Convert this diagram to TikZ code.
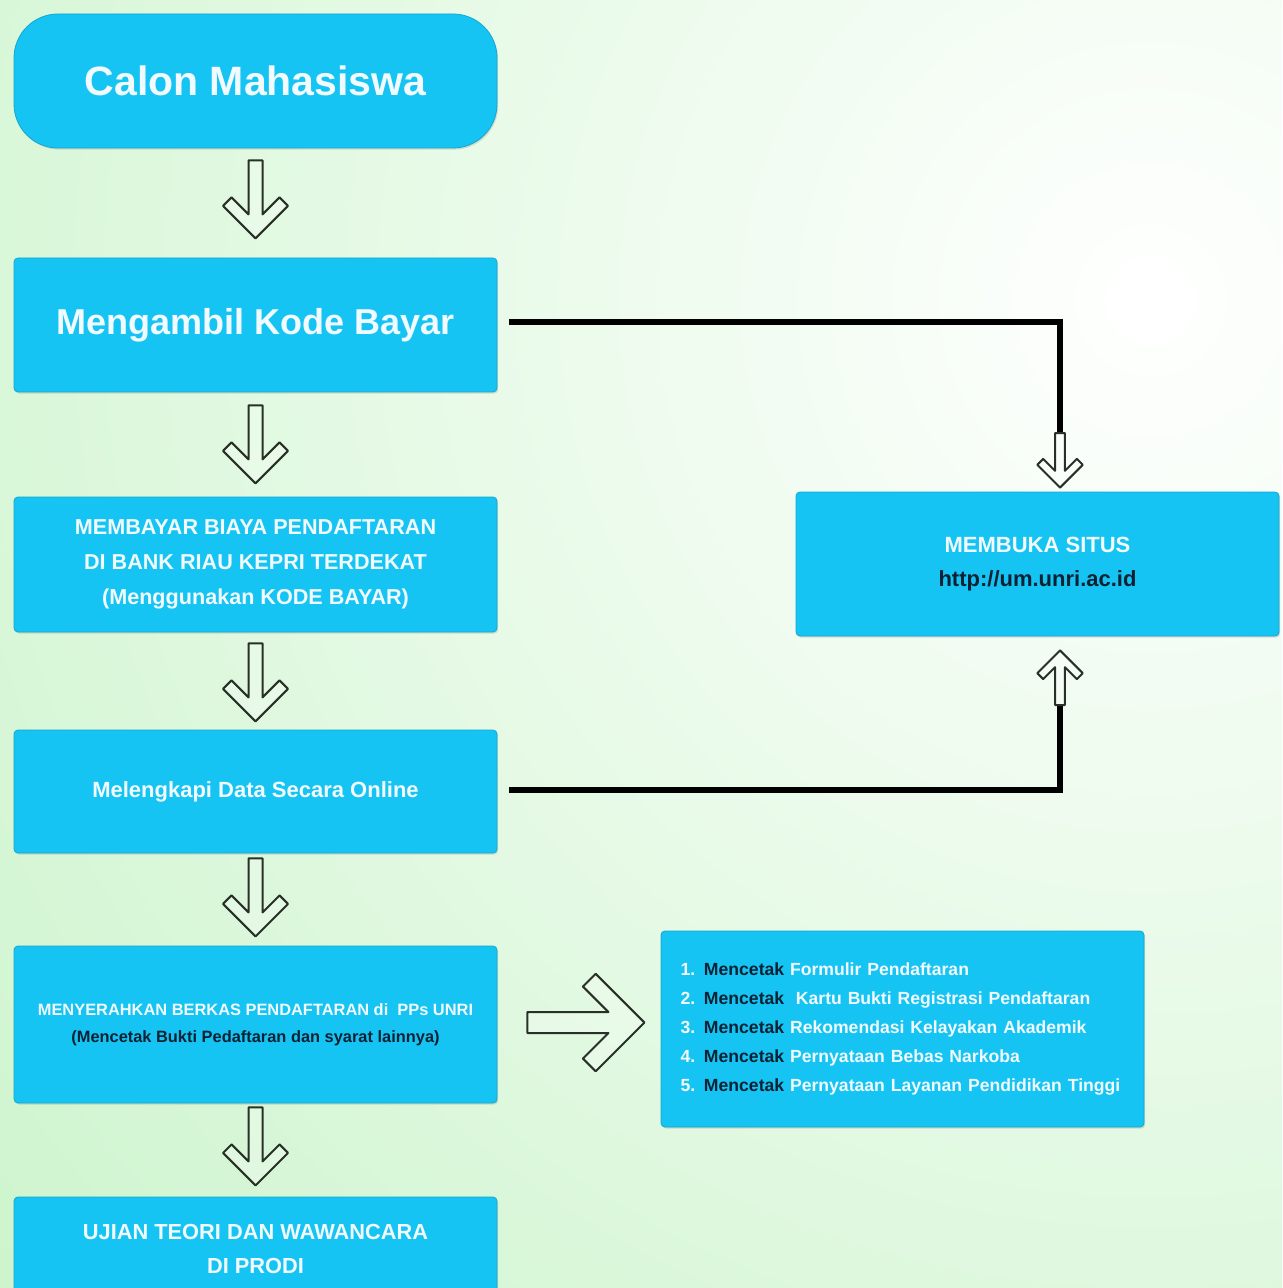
\documentclass[tikz,border=0pt]{standalone}
\usepackage{fontspec}
\setmainfont{Liberation Sans}
\usetikzlibrary{calc,shadows}
\definecolor{boxcyan}{RGB}{22,196,243}
\definecolor{bggreen}{RGB}{176,238,176}
\definecolor{navytxt}{RGB}{10,34,52}
\definecolor{arrowgray}{RGB}{40,48,40}
\definecolor{offwhite}{RGB}{240,250,255}
\newcommand\myfs[2]{\fontsize{#1}{#2}\selectfont}
\tikzset{
  box/.style={fill=boxcyan, draw=boxcyan!85!black, line width=0.4pt,
    rounded corners=2pt, minimum width=241.5pt, inner sep=0pt,
    align=center, text=offwhite,
    drop shadow={shadow xshift=0.6pt, shadow yshift=-0.8pt, opacity=0.25}},
  conn/.style={line width=3pt, black},
  harrowline/.style={draw=arrowgray, line width=1pt, fill=white,
    fill opacity=0.25, line join=round},
  harrow/.pic={\path[harrowline] (-7,0) -- (-7,54) -- (-24,37) -- (-32.5,45.5)
      -- (0,78) -- (32.5,45.5) -- (24,37) -- (7,54) -- (7,0) -- cycle;}
}
\begin{document}
\begin{tikzpicture}[x=0.5pt,y=-0.5pt]
\useasboundingbox (0,0) rectangle (1282,1288);
\begin{scope}
\clip (0,0) rectangle (1282,1288);
\fill[bggreen] (0,0) rectangle (1282,1288);
\shade[inner color=white, outer color=bggreen] (1150,300) circle (2400);

% main column
\node[box, minimum height=67pt, rounded corners=22pt, font=\bfseries\myfs{20.5}{24}] (cal) at (255.5,81) {Calon Mahasiswa};
\node[box, minimum height=67pt, font=\bfseries\myfs{18}{22}] (kode) at (255.5,325) {Mengambil Kode Bayar};
\node[box, minimum height=67.5pt, font=\bfseries\myfs{10.8}{17.5}] (bayar) at (255.5,564.5)
  {MEMBAYAR BIAYA PENDAFTARAN\\DI BANK RIAU KEPRI TERDEKAT\\(Menggunakan KODE BAYAR)};
\node[box, minimum height=61.5pt, font=\bfseries\myfs{11}{17}] (online) at (255.5,791.5) {Melengkapi Data Secara Online};
\node[box, minimum height=78.5pt, font=\bfseries\myfs{8.2}{13.5}] (berkas) at (255.5,1024.5)
  {MENYERAHKAN BERKAS PENDAFTARAN di\ \ PPs UNRI\\\textcolor{navytxt}{(Mencetak Bukti Pedaftaran dan syarat lainnya)}};
\node[box, minimum height=51.5pt, font=\bfseries\myfs{10.9}{17}] (ujian) at (255.5,1248.5)
  {UJIAN TEORI DAN WAWANCARA\\DI PRODI};

% right column
\node[box, minimum height=72pt, font=\bfseries\myfs{11}{17}] (situs) at (1037.5,564)
  {MEMBUKA SITUS\\\textcolor{navytxt}{http://um.unri.ac.id}};
\node[box, minimum height=98pt, align=left, text width=222pt, inner xsep=9.75pt,
      font=\bfseries\myfs{8.8}{14.5}] (list) at (902.5,1029)
  {1. \textcolor{navytxt}{Mencetak} Formulir Pendaftaran\\
   2. \textcolor{navytxt}{Mencetak}\ \ Kartu Bukti Registrasi Pendaftaran\\
   3. \textcolor{navytxt}{Mencetak} Rekomendasi Kelayakan Akademik\\
   4. \textcolor{navytxt}{Mencetak} Pernyataan Bebas Narkoba\\
   5. \textcolor{navytxt}{Mencetak} Pernyataan Layanan Pendidikan Tinggi};

% hollow arrows down the main column
\pic at ($(cal.south)+(0,12)$) {harrow};
\pic at ($(kode.south)+(0,13)$) {harrow};
\pic at ($(bayar.south)+(0,11)$) {harrow};
\pic at ($(online.south)+(0,5)$) {harrow};
\pic at ($(berkas.south)+(0,4)$) {harrow};

% right arrow to list
\pic[rotate=90, scale=1.5] at ($(berkas.east)+(30,-2)$) {harrow};

% connectors to situs
\coordinate (d1) at (1060,433);
\draw[conn] ($(kode.east)+(12,-3)$) -| (d1);
\pic[scale=0.7] at (d1) {harrow};
\coordinate (u1) at (1060,705);
\draw[conn] ($(online.east)+(12,-1.5)$) -| (u1);
\pic[rotate=180, scale=0.7] at (u1) {harrow};
\end{scope}
\end{tikzpicture}
\end{document}
